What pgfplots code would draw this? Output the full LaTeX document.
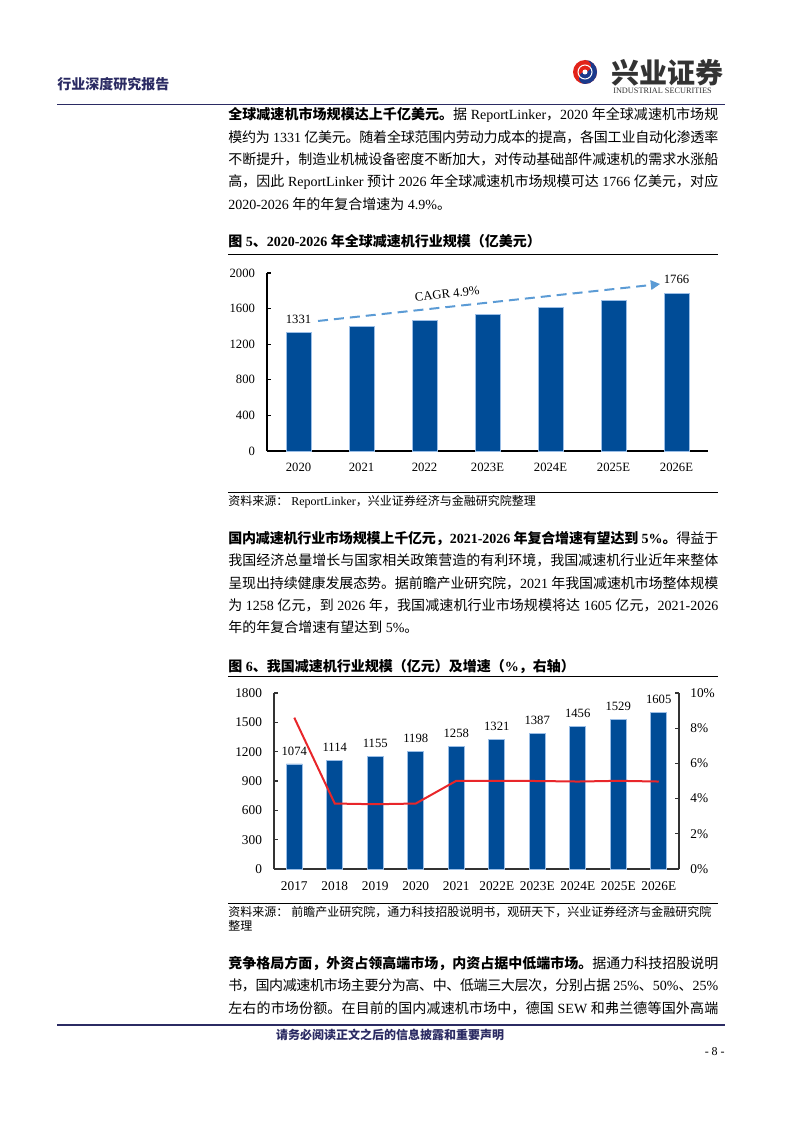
\documentclass[border=0pt]{standalone}
\usepackage{fontspec}
\usepackage{pgfplots}
\pgfplotsset{compat=1.18}
\usetikzlibrary{arrows.meta}
\setmainfont{Liberation Serif}
\newfontfamily\cjkfont{Noto Sans CJK SC}
\XeTeXinterchartokenstate=1
\newXeTeXintercharclass\cjkclass
\newcount\cjkc
\cjkc="4E00\relax
\loop\XeTeXcharclass\cjkc=\cjkclass\relax\ifnum\cjkc<"9FFF\relax\advance\cjkc by 1\relax\repeat
\cjkc="3000\relax
\loop\XeTeXcharclass\cjkc=\cjkclass\relax\ifnum\cjkc<"303F\relax\advance\cjkc by 1\relax\repeat
\cjkc="FF00\relax
\loop\XeTeXcharclass\cjkc=\cjkclass\relax\ifnum\cjkc<"FFEF\relax\advance\cjkc by 1\relax\repeat
\XeTeXinterchartoks 0 \cjkclass = {\cjkfont}
\XeTeXinterchartoks 4095 \cjkclass = {\cjkfont}
\XeTeXinterchartoks \cjkclass 0 = {\rmfamily}
\XeTeXinterchartoks \cjkclass 4095 = {\rmfamily}
\XeTeXinterchartoks \cjkclass \cjkclass = {\hskip 0pt plus 1pt minus 0.6pt\relax}

\definecolor{navy}{HTML}{2B2B63}
\definecolor{barblue}{HTML}{004C97}
\definecolor{baredge}{HTML}{9BBEE6}
\definecolor{linered}{HTML}{E8262A}
\definecolor{arrowblue}{HTML}{5B9BD5}
\definecolor{logored}{HTML}{E2231A}
\definecolor{logoblue}{HTML}{1B3A8C}

\newcommand\bodyfont{\fontsize{10.5pt}{12pt}\selectfont}
\newcommand\jl[2]{\node[anchor=base west,inner sep=0pt] at (228,#1) {\bodyfont\makebox[367.5pt][s]{#2}};}
\newcommand\nl[2]{\node[anchor=base west,inner sep=0pt] at (228,#1) {\bodyfont #2};}

\begin{document}
\begin{tikzpicture}
\begin{scope}[x=0.75pt,y=-0.75pt]
\useasboundingbox (0,0) rectangle (794,1123);
% header
\node[anchor=base west,inner sep=0pt,text=navy] at (57,90) {\fontsize{10.5pt}{12pt}\selectfont\bfseries 行业深度研究报告};
\draw[navy,line width=1.2pt] (57,104.5) -- (725,104.5);
% logo
\begin{scope}[shift={(585,72)},y=0.75pt]
\fill[logored] (0,0) circle (12);
\fill[logoblue] (0,12) arc[start angle=90,end angle=-90,radius=12]
  arc[start angle=270,end angle=90,radius=6]
  arc[start angle=-90,end angle=90,radius=6] -- cycle;
\draw[white,line width=0.8pt] (0,0) circle (7);
\fill[white] (0,0) circle (2.5);
\end{scope}
\node[anchor=base west,inner sep=0pt,text=black!80] at (611,84) {\fontsize{21pt}{22pt}\selectfont\bfseries 兴业证券};
\node[anchor=base west,inner sep=0pt,text=black!80] at (613,93.5) {\fontsize{6.2pt}{7pt}\selectfont INDUSTRIAL SECURITIES};
% paragraph 1
\jl{120}{{\bfseries 全球减速机市场规模达上千亿美元。}据 ReportLinker，2020 年全球减速机市场规}
\jl{142.5}{模约为 1331 亿美元。随着全球范围内劳动力成本的提高，各国工业自动化渗透率}
\jl{165}{不断提升，制造业机械设备密度不断加大，对传动基础部件减速机的需求水涨船}
\jl{187}{高，因此 ReportLinker 预计 2026 年全球减速机市场规模可达 1766 亿美元，对应}
\nl{209.5}{2020-2026 年的年复合增速为 4.9\%。}
% fig 5 title
\nl{247}{\bfseries 图 5、2020-2026 年全球减速机行业规模（亿美元）}
\draw[black,line width=0.8pt] (228,254.5) -- (718,254.5);
\draw[black,line width=0.8pt] (228,492.5) -- (718,492.5);
\node[anchor=base west,inner sep=0pt] at (228,505.5) {\fontsize{9pt}{10pt}\selectfont 资料来源： ReportLinker，兴业证券经济与金融研究院整理};
% paragraph 2
\jl{543}{{\bfseries 国内减速机行业市场规模上千亿元，2021-2026 年复合增速有望达到 5\%。}得益于}
\jl{565.5}{我国经济总量增长与国家相关政策营造的有利环境，我国减速机行业近年来整体}
\jl{588}{呈现出持续健康发展态势。据前瞻产业研究院，2021 年我国减速机市场整体规模}
\jl{610}{为 1258 亿元，到 2026 年，我国减速机行业市场规模将达 1605 亿元，2021-2026}
\nl{632}{年的年复合增速有望达到 5\%。}
% fig 6 title
\nl{671.5}{\bfseries 图 6、我国减速机行业规模（亿元）及增速（\%，右轴）}
\draw[black,line width=0.8pt] (228,676.5) -- (718,676.5);
\draw[black,line width=0.8pt] (228,903.5) -- (718,903.5);
\node[anchor=base west,inner sep=0pt] at (228,916.5) {\fontsize{9pt}{10pt}\selectfont 资料来源： 前瞻产业研究院，通力科技招股说明书，观研天下，兴业证券经济与金融研究院};
\node[anchor=base west,inner sep=0pt] at (228,930.5) {\fontsize{9pt}{10pt}\selectfont 整理};
% paragraph 3
\jl{968}{{\bfseries 竞争格局方面，外资占领高端市场，内资占据中低端市场。}据通力科技招股说明}
\jl{990.5}{书，国内减速机市场主要分为高、中、低端三大层次，分别占据 25\%、50\%、25\%}
\jl{1013}{左右的市场份额。在目前的国内减速机市场中，德国 SEW 和弗兰德等国外高端}
% footer
\draw[navy,line width=1.8pt] (57,1025) -- (725,1025);
\node[anchor=base,inner sep=0pt,text=navy] at (390,1039.5) {\fontsize{9pt}{10pt}\selectfont\bfseries 请务必阅读正文之后的信息披露和重要声明};
\node[anchor=base east,inner sep=0pt] at (725,1055.5) {\fontsize{9pt}{10pt}\selectfont - 8 -};
\end{scope}

% ---------- Chart 1 ----------
\begin{axis}[
  at={(200.25pt,-338.25pt)}, anchor=south west,
  scale only axis, width=330.75pt, height=133.5pt,
  xmin=-0.5, xmax=6.5, ymin=0, ymax=2000,
  axis x line*=bottom, axis y line*=left,
  axis line style={black, line width=0.8pt},
  xtick={0,...,6},
  xticklabels={2020,2021,2022,2023E,2024E,2025E,2026E},
  xtick style={draw=none},
  ytick={0,400,...,2000},
  tick align=inside, major tick length=3pt,
  ytick style={black, line width=0.8pt},
  /pgf/number format/1000 sep={},
  /pgf/number format/assume math mode=true,
  ticklabel style={font=\fontsize{9.5pt}{11pt}\selectfont},
  yticklabel style={xshift=-5.5pt},
  xticklabel style={yshift=-5.5pt},
  clip=false,
]
\addplot[ybar, bar width=18.75pt, fill=barblue, draw=baredge, line width=0.6pt]
  coordinates {(0,1331) (1,1396) (2,1465) (3,1536) (4,1612) (5,1691) (6,1766)};
\draw[arrowblue, line width=1.5pt, dash pattern=on 7.5pt off 4.5pt, -{Triangle[length=7pt,width=7pt]}]
  (axis cs:0.31,1461) -- (axis cs:5.74,1876);
\node[font=\fontsize{9.5pt}{11pt}\selectfont] at (axis cs:0,1483) {1331};
\node[font=\fontsize{9.5pt}{11pt}\selectfont] at (axis cs:6,1925) {1766};
\node[font=\fontsize{9.5pt}{11pt}\selectfont, rotate=6.2] at (axis cs:2.36,1764) {CAGR 4.9\%};
\end{axis}

% ---------- Chart 2 ----------
\begin{axis}[
  at={(205.5pt,-651.75pt)}, anchor=south west,
  scale only axis, width=303.75pt, height=132pt,
  xmin=-0.5, xmax=9.5, ymin=0, ymax=1800,
  axis x line*=bottom, axis y line*=left,
  axis line style={black!80, line width=1pt},
  xtick={0,...,9},
  xticklabels={2017,2018,2019,2020,2021,2022E,2023E,2024E,2025E,2026E},
  xtick style={draw=none},
  ytick={0,300,...,1800},
  tick align=inside, major tick length=3pt,
  ytick style={black!80, line width=1pt},
  /pgf/number format/1000 sep={},
  /pgf/number format/assume math mode=true,
  ticklabel style={font=\fontsize{10pt}{11pt}\selectfont},
  yticklabel style={xshift=-5.5pt},
  xticklabel style={yshift=-6pt},
  clip=false,
]
\addplot[ybar, bar width=12pt, fill=barblue, draw=baredge, line width=0.6pt,
  nodes near coords,
  every node near coord/.append style={font=\fontsize{9.5pt}{11pt}\selectfont, yshift=3pt, text=black}]
  coordinates {(0,1074) (1,1114) (2,1155) (3,1198) (4,1258) (5,1321) (6,1387) (7,1456) (8,1529) (9,1605)};
\end{axis}
\begin{axis}[
  at={(205.5pt,-651.75pt)}, anchor=south west,
  scale only axis, width=303.75pt, height=132pt,
  xmin=-0.5, xmax=9.5, ymin=0, ymax=10,
  axis x line=none, axis y line*=right,
  axis line style={black!80, line width=1pt},
  ytick={0,2,...,10},
  yticklabels={0\%,2\%,4\%,6\%,8\%,10\%},
  tick align=inside, major tick length=3pt,
  ytick style={black!80, line width=1pt},
  ticklabel style={font=\fontsize{10pt}{11pt}\selectfont},
  yticklabel style={xshift=5pt},
  clip=false,
]
\addplot[linered, line width=1.5pt, mark=none]
  coordinates {(0,8.6) (1,3.72) (2,3.68) (3,3.72) (4,5.01) (5,5.01) (6,5.00) (7,4.97) (8,5.01) (9,4.97)};
\end{axis}
\end{tikzpicture}
\end{document}
